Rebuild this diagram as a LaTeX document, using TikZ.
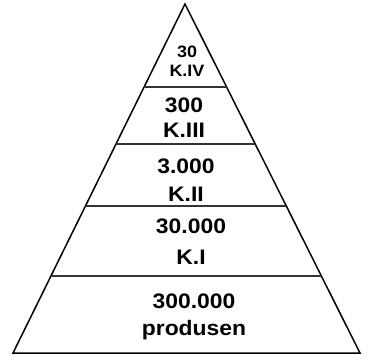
\documentclass[tikz,border=0pt]{standalone}
\usepackage{fontspec}
\setmainfont[FakeStretch=1.09]{Liberation Sans}
\usetikzlibrary{calc}

\tikzset{
    niveau/.style={font=\bfseries\fontsize{21}{23}\selectfont, anchor=base, inner sep=0pt},
    sommet/.style={font=\bfseries\fontsize{16.5}{18}\selectfont, anchor=base, inner sep=0pt},
    bord/.style={line width=1.5pt, black},
    palier/.style={line width=1.5pt, black!80}
}

\begin{document}
\begin{tikzpicture}[x=1pt, y=-1pt]

        \useasboundingbox (0,0) rectangle (372,356);

        %% ── Contour de la pyramide ─────────────────────────────────────────
        \coordinate (apex) at (185,4);
        \coordinate (bg) at (13,353);
        \coordinate (bd) at (360,353);
        \draw[bord, line join=miter] (bg) -- (apex) -- (bd) -- cycle;

        %% ── Paliers trophiques ─────────────────────────────────────────────
        \foreach \t/\nom in {0.238/p4, 0.401/p3, 0.579/p2, 0.779/p1}{
            \draw[palier] ($(apex)!\t!(bg)$) coordinate (\nom g)
                -- ($(apex)!\t!(bd)$) coordinate (\nom d);
        }

        %% ── Effectifs par niveau ───────────────────────────────────────────
        \node[sommet] (n4) at (187,57) {30};
        \node[sommet] (k4) at (187,76) {K.IV};
        \node[niveau] (n3) at (184,112) {300};
        \node[niveau] (k3) at (184,137) {K.III};
        \node[niveau] (n2) at (186,173) {3.000};
        \node[niveau] (k2) at (186,201) {K.II};
        \node[niveau] (n1) at (191,233) {30.000};
        \node[niveau] (k1) at (191,264) {K.I};
        \node[niveau] (n0) at (194,308) {300.000};
        \node[niveau] (k0) at (194,335) {produsen};

    \end{tikzpicture}
\end{document}
